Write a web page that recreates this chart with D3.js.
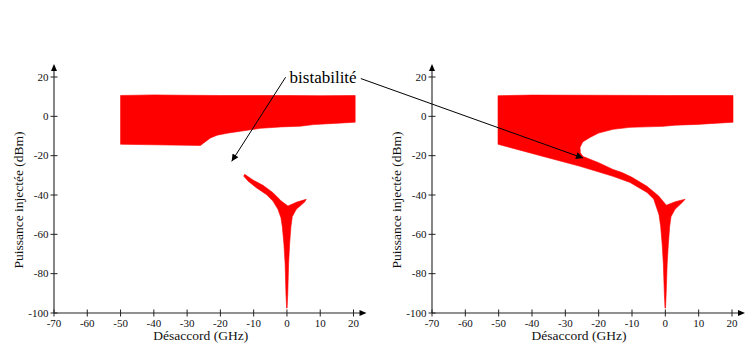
<!DOCTYPE html>
<html><head><meta charset="utf-8">
<script src="https://cdn.jsdelivr.net/npm/d3@7"></script>
<style>
html,body{margin:0;padding:0;background:#fff;}
svg{display:block;}
svg text{font-family:"Liberation Serif","DejaVu Serif","Times New Roman",serif;}
</style></head>
<body>
<script>
// ---- data ----
const xTicks = [-70,-60,-50,-40,-30,-20,-10,0,10,20];
const yTicks = [-100,-80,-60,-40,-20,0,20];
const xLabel = "Désaccord (GHz)";
const yLabel = "Puissance injectée (dBm)";
const annotationText = "bistabilité";

// left panel: upper region (detuning GHz, power dBm)
const leftUpperRegion = [
  [-50,10.6],[-40,10.9],[-30,10.7],[-20,10.6],[0,10.6],[10,10.5],[20.5,10.6],
  [20.5,-3.0],[14,-3.6],[8,-4.2],[4,-5.0],[-2,-5.4],[-8,-6.1],[-14,-7.6],
  [-18,-8.6],[-21,-9.6],[-23,-11.0],[-25,-13.5],[-26,-14.8],[-35,-14.6],[-50,-14.2]
];
// left panel: lower branch + stem
const leftLowerBranch = [
  [-12.7,-29.5],[-10.2,-32.4],[-7.2,-35.1],[-4.2,-38.8],[-1.7,-43.1],[0.3,-45.6],
  [3.0,-43.6],[5.8,-42.2],[5.3,-43.6],[2.8,-47.3],[1.6,-51.0],[1.2,-56],
  [0.8,-65],[0.5,-75],[0.25,-90],[0.05,-97.5],[-0.1,-97.5],[-0.3,-90],
  [-0.55,-75],[-0.9,-65],[-1.4,-56],[-1.8,-51.6],[-2.7,-47.3],[-4.2,-43.1],
  [-6.2,-39.7],[-9.2,-36.3],[-11.7,-32.9],[-13,-30.4]
];
// right panel: single connected region
const rightRegion = [
  [-50.2,10.5],[-40,10.8],[-20,10.7],[0,10.6],[20.3,10.6],[20.3,-3.0],
  [9.5,-4.1],[3,-4.5],[-0.7,-5.1],[-10.6,-5.6],[-15.7,-6.6],[-20,-8.5],
  [-22.6,-10.7],[-24.8,-13],[-25.6,-15.8],[-25.5,-18.5],[-24.7,-20.4],
  [-20,-23.6],[-15.7,-27],[-13,-28.6],[-10,-31],[-5.5,-35.6],[-2,-40.5],
  [0.3,-45.2],[3,-43.4],[5.9,-42.2],[5.2,-43.6],[2.9,-47.3],[1.7,-51],
  [1.3,-56],[0.9,-65],[0.55,-75],[0.25,-90],[0.05,-97.5],[-0.1,-97.5],
  [-0.3,-90],[-0.6,-75],[-0.95,-65],[-1.4,-56],[-1.9,-50],[-3.5,-42],
  [-5.5,-38.7],[-10.6,-33.6],[-15.7,-30.5],[-25.6,-25.4],[-35.5,-20.9],[-50.2,-14.2]
];

// annotation anchors (left-panel data coordinates)
const annotTextPos = [0.8, 16.8];
const leftArrow = {from:[-0.4,19.9], to:[-16.6,-22.9]};
// right arrow: start in left-panel coords, end in right-panel coords
const rightArrowFrom = [22.2, 19.2];
const rightArrowTo = [-24.7,-21.2];

// ---- layout ----
const W = 745, H = 345;
const FONT = '"Liberation Serif","DejaVu Serif",serif';
const svg = d3.select("body").append("svg").attr("width",W).attr("height",H)
  .attr("font-family",FONT);
const defs = svg.append("defs");
defs.append("marker").attr("id","arr").attr("viewBox","0 0 10 10")
  .attr("refX",10).attr("refY",5).attr("markerWidth",9).attr("markerHeight",7)
  .attr("markerUnits","userSpaceOnUse").attr("orient","auto")
  .append("path").attr("d","M0,0 L10,5 L0,10 Z").attr("fill","#000");

const yScale = d3.scaleLinear().domain([-100,20]).range([313,77]);
const panels = [
  {x: d3.scaleLinear().domain([-70,20]).range([54,353.5]), regions:[leftUpperRegion,leftLowerBranch]},
  {x: d3.scaleLinear().domain([-70,20]).range([432,732]), regions:[rightRegion]}
];

panels.forEach(p=>{
  const g = svg.append("g");
  const line = d3.line().x(d=>p.x(d[0])).y(d=>yScale(d[1])).curve(d3.curveLinearClosed);
  p.regions.forEach(r=>{
    g.append("path").attr("d",line(r)).attr("fill","#ff0000").attr("stroke","#ff0000").attr("stroke-width",0.6).attr("stroke-linejoin","round");
  });
  const x0 = p.x(-70), y0 = yScale(-100);
  g.append("line").attr("x1",x0).attr("x2",x0).attr("y1",y0).attr("y2",yScale(20)-8)
    .attr("stroke","#222").attr("stroke-width",1.1);
  g.append("path").attr("d",`M${x0-3},${yScale(20)-6} L${x0},${yScale(20)-13} L${x0+3},${yScale(20)-6} Z`).attr("fill","#000");
  g.append("line").attr("x1",x0).attr("x2",p.x(20)+8).attr("y1",y0).attr("y2",y0)
    .attr("stroke","#222").attr("stroke-width",1.1);
  g.append("path").attr("d",`M${p.x(20)+6},${y0-3} L${p.x(20)+13},${y0} L${p.x(20)+6},${y0+3} Z`).attr("fill","#000");
  g.selectAll(".yt").data(yTicks).enter().append("line")
    .attr("x1",x0-3.5).attr("x2",x0+3.5).attr("y1",d=>yScale(d)).attr("y2",d=>yScale(d))
    .attr("stroke","#222").attr("stroke-width",1);
  g.selectAll(".ytl").data(yTicks).enter().append("text")
    .attr("x",x0-5.5).attr("y",d=>yScale(d)+3.5).attr("text-anchor","end")
    .attr("font-family",FONT).attr("font-size",11).attr("fill","#111").text(d=>d);
  g.selectAll(".xt").data(xTicks).enter().append("line")
    .attr("x1",d=>p.x(d)).attr("x2",d=>p.x(d)).attr("y1",y0-3.5).attr("y2",y0+3.5)
    .attr("stroke","#222").attr("stroke-width",1);
  g.selectAll(".xtl").data(xTicks).enter().append("text")
    .attr("x",d=>p.x(d)).attr("y",y0+14).attr("text-anchor","middle")
    .attr("font-family",FONT).attr("font-size",11).attr("fill","#111").text(d=>d);
  g.append("text").attr("x",(p.x(-70)+p.x(20))/2 - 3).attr("y",y0+27)
    .attr("text-anchor","middle").attr("font-family",FONT).attr("font-size",13.5).attr("fill","#111").text(xLabel);
  g.append("text").attr("transform",`translate(${x0-31},${yScale(-40)+5}) rotate(-90)`)
    .attr("text-anchor","middle").attr("font-family",FONT).attr("font-size",13.5).attr("fill","#111").text(yLabel);
});

const L = panels[0].x, R = panels[1].x;
svg.append("text").attr("x",L(annotTextPos[0])).attr("y",yScale(annotTextPos[1]))
  .attr("font-family",FONT).attr("font-size",17).attr("fill","#000").text(annotationText);
svg.append("line").attr("x1",L(leftArrow.from[0])).attr("y1",yScale(leftArrow.from[1]))
  .attr("x2",L(leftArrow.to[0])).attr("y2",yScale(leftArrow.to[1]))
  .attr("stroke","#000").attr("stroke-width",1).attr("marker-end","url(#arr)");
svg.append("line").attr("x1",L(rightArrowFrom[0])).attr("y1",yScale(rightArrowFrom[1]))
  .attr("x2",R(rightArrowTo[0])).attr("y2",yScale(rightArrowTo[1]))
  .attr("stroke","#000").attr("stroke-width",1).attr("marker-end","url(#arr)");
</script>
</body></html>
